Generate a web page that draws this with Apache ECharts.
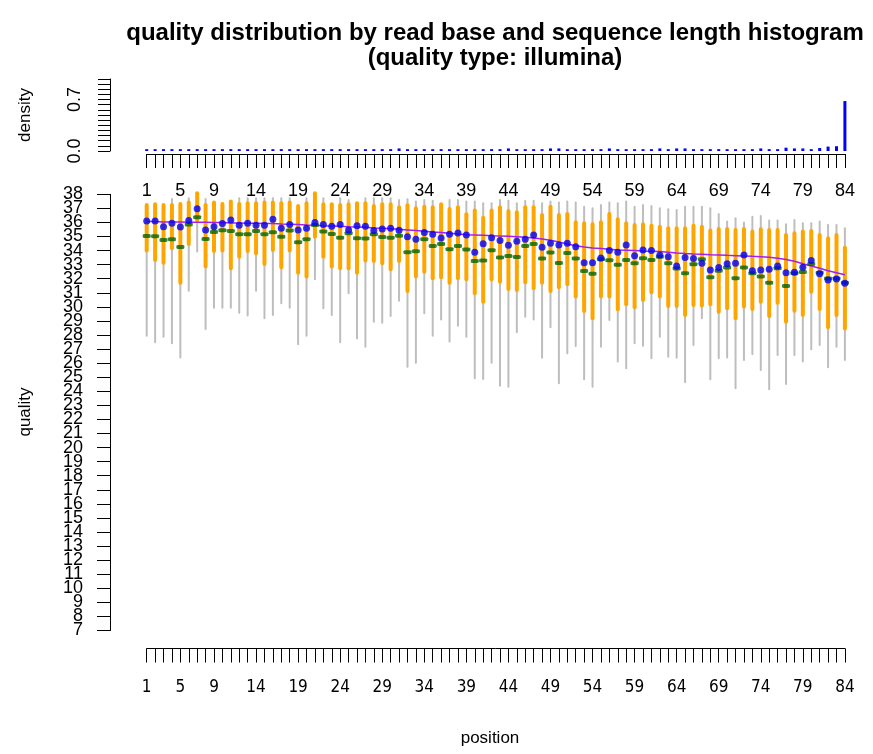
<!DOCTYPE html>
<html>
<head>
<meta charset="utf-8">
<script src="https://cdn.jsdelivr.net/npm/echarts@6/dist/echarts.min.js"></script>
<style>
html, body { margin: 0; padding: 0; background: #fff; }
#chart { width: 873px; height: 754px; }
</style>
</head>
<body>
<div id="chart"></div>
<script>
// read positions 1..84
var positions = [];
for (var i = 1; i <= 84; i++) positions.push(i);
var posLabels = [1, 5, 9, 14, 19, 24, 29, 34, 39, 44, 49, 54, 59, 64, 69, 74, 79, 84];
var densityLabels = [0, 0.7];
// quality labels, split in two sets so none of them gets dropped for overlapping
var qualityLabelsOdd = [7, 9, 11, 13, 15, 17, 19, 21, 23, 25, 27, 29, 31, 33, 35, 37];
var qualityLabelsEven = [8, 10, 12, 14, 16, 18, 20, 22, 24, 26, 28, 30, 32, 34, 36, 38];

// sequence length density (top panel)
var density = [0.025, 0.025, 0.025, 0.025, 0.025, 0.025, 0.025, 0.025, 0.025, 0.025,
	0.025, 0.025, 0.025, 0.025, 0.025, 0.025, 0.025, 0.025, 0.025, 0.025,
	0.025, 0.025, 0.025, 0.025, 0.025, 0.025, 0.025, 0.025, 0.025, 0.025,
	0.035, 0.025, 0.025, 0.025, 0.025, 0.025, 0.025, 0.025, 0.025, 0.025,
	0.025, 0.025, 0.025, 0.035, 0.025, 0.025, 0.025, 0.025, 0.035, 0.035,
	0.025, 0.025, 0.025, 0.025, 0.025, 0.035, 0.025, 0.025, 0.025, 0.025,
	0.025, 0.035, 0.025, 0.035, 0.035, 0.025, 0.025, 0.025, 0.025, 0.025,
	0.025, 0.025, 0.025, 0.035, 0.025, 0.025, 0.045, 0.035, 0.035, 0.025,
	0.04, 0.06, 0.065, 0.68];

// quality per position (bottom panel)
var whiskerHigh = [37.24, 37.29, 37.24, 37.67, 37.31, 37.72, 38.07, 37.67, 37.41, 37.31,
	37.48, 37.72, 37.72, 37.72, 37.72, 37.72, 37.72, 37.72, 37.17, 37.72,
	38.07, 37.72, 37.29, 37.72, 37.60, 37.36, 37.72, 37.72, 37.72, 37.72,
	37.60, 37.65, 37.48, 37.60, 37.55, 37.29, 37.60, 37.60, 37.48, 37.48,
	37.36, 37.36, 37.60, 37.55, 37.36, 37.55, 37.55, 37.36, 37.48, 37.41,
	37.48, 37.41, 37.12, 37.01, 37.24, 37.41, 37.36, 37.48, 37.12, 37.24,
	37.17, 37.01, 36.93, 36.89, 37.12, 37.12, 37.12, 37.01, 36.60, 36.06,
	36.29, 35.99, 36.41, 36.46, 36.13, 36.13, 35.87, 36.18, 35.94, 35.94,
	36.06, 35.82, 35.82, 35.58];
var q75 = [37.24, 37.29, 37.24, 37.24, 37.31, 37.41, 38.07, 37.24, 37.41, 37.31,
	37.48, 37.31, 37.36, 37.36, 37.41, 37.41, 37.36, 37.41, 37.17, 37.36,
	38.07, 37.29, 37.29, 37.24, 37.29, 37.36, 37.36, 37.17, 37.29, 37.29,
	37.08, 37.22, 37.01, 37.12, 37.08, 37.29, 36.96, 37.08, 36.58, 36.84,
	36.34, 36.84, 37.08, 36.82, 36.72, 37.08, 37.08, 36.53, 37.12, 36.53,
	36.60, 36.01, 35.94, 35.87, 36.01, 36.60, 36.22, 35.94, 35.82, 35.87,
	35.77, 35.70, 35.58, 35.58, 35.58, 35.77, 35.70, 35.42, 35.54, 35.54,
	35.47, 35.54, 35.35, 35.51, 35.47, 35.47, 35.11, 35.23, 35.35, 35.39,
	35.11, 34.87, 35.11, 34.21];
var q25 = [34.00, 33.33, 33.14, 34.16, 31.72, 34.47, 36.18, 32.86, 33.97, 34.00,
	32.74, 33.57, 33.97, 33.81, 33.05, 34.04, 32.81, 34.00, 32.43, 32.15,
	34.99, 33.57, 32.86, 32.74, 32.74, 32.43, 33.29, 33.26, 33.10, 32.67,
	33.26, 31.13, 32.15, 32.50, 32.03, 32.10, 31.72, 32.03, 31.96, 30.96,
	30.37, 31.96, 31.79, 31.27, 31.20, 31.75, 31.32, 31.72, 31.13, 31.39,
	31.60, 30.73, 29.71, 29.19, 30.73, 30.73, 29.83, 30.18, 29.97, 30.49,
	31.03, 30.73, 30.06, 30.06, 29.42, 30.13, 30.09, 30.18, 29.66, 29.90,
	29.19, 30.02, 29.85, 30.37, 29.35, 30.30, 28.95, 29.73, 29.42, 31.08,
	29.85, 28.55, 29.42, 28.47];
var whiskerLow = [27.95, 27.48, 27.88, 27.41, 26.41, 31.15, 33.93, 28.43, 29.94, 29.94,
	29.94, 29.59, 29.38, 31.15, 29.19, 29.42, 30.25, 29.94, 27.34, 27.95,
	31.96, 29.90, 29.42, 27.48, 30.96, 27.76, 27.17, 28.95, 28.88, 29.35,
	30.44, 25.75, 26.03, 29.54, 27.95, 29.11, 27.53, 28.66, 27.88, 24.92,
	24.87, 26.03, 24.40, 24.33, 28.19, 29.30, 29.11, 26.39, 28.55, 24.57,
	26.70, 27.22, 24.85, 24.33, 27.17, 29.07, 26.11, 25.63, 27.41, 27.24,
	26.34, 27.88, 26.46, 26.39, 24.64, 27.29, 29.19, 24.85, 26.34, 26.41,
	24.21, 26.22, 26.65, 25.51, 24.14, 26.58, 24.52, 26.58, 26.11, 26.98,
	27.29, 25.70, 27.17, 26.22];
var means = [36.11, 36.11, 35.70, 35.94, 35.67, 36.13, 36.98, 35.47, 35.70, 35.92,
	36.18, 35.80, 35.94, 35.80, 35.80, 36.22, 35.58, 35.85, 35.47, 35.58,
	35.99, 35.85, 35.73, 35.85, 35.47, 35.77, 35.73, 35.42, 35.54, 35.58,
	35.44, 34.99, 34.80, 35.28, 35.16, 34.90, 35.16, 35.25, 35.11, 33.88,
	34.49, 34.92, 34.71, 34.38, 34.66, 34.80, 35.11, 34.23, 34.52, 34.40,
	34.52, 34.28, 33.14, 33.14, 33.47, 34.00, 33.88, 34.40, 33.64, 34.04,
	34.00, 33.69, 33.57, 32.91, 33.50, 33.43, 33.10, 32.62, 32.79, 33.07,
	33.10, 33.69, 32.57, 32.62, 32.67, 32.91, 32.43, 32.46, 32.81, 33.29,
	32.36, 31.91, 31.98, 31.67];
var medians = [35.04, 35.02, 34.75, 34.80, 34.26, 35.85, 36.37, 34.83, 35.32, 35.44,
	35.39, 35.16, 35.16, 35.39, 35.16, 35.30, 34.99, 35.42, 34.59, 34.80,
	35.82, 35.35, 35.18, 34.92, 35.23, 34.87, 34.85, 35.16, 34.97, 34.92,
	35.06, 33.88, 33.95, 34.80, 34.33, 34.47, 34.09, 34.33, 34.07, 33.26,
	33.29, 34.02, 33.50, 33.62, 33.55, 34.33, 34.47, 33.43, 33.86, 33.12,
	33.83, 33.43, 32.55, 32.36, 33.38, 33.31, 33.00, 33.33, 33.10, 33.45,
	33.33, 33.57, 33.10, 32.72, 32.39, 33.02, 33.38, 32.10, 32.57, 32.79,
	32.03, 32.79, 32.39, 32.15, 31.72, 32.74, 31.48, 32.39, 32.48, 33.05,
	32.43, 32.01, 32.01, 31.72];
var smooth = [36.06, 36.06, 36.04, 36.04, 36.04, 36.01, 36.01, 36.01, 35.99, 35.99,
	35.96, 35.96, 35.94, 35.94, 35.92, 35.92, 35.89, 35.87, 35.85, 35.82,
	35.80, 35.77, 35.75, 35.73, 35.70, 35.68, 35.66, 35.61, 35.58, 35.56,
	35.51, 35.47, 35.42, 35.37, 35.32, 35.28, 35.23, 35.18, 35.13, 35.11,
	35.09, 35.06, 35.04, 35.02, 34.99, 34.94, 34.90, 34.83, 34.73, 34.61,
	34.47, 34.35, 34.26, 34.19, 34.14, 34.09, 34.04, 34.02, 34.00, 33.97,
	33.95, 33.93, 33.88, 33.83, 33.79, 33.76, 33.74, 33.71, 33.69, 33.66,
	33.64, 33.62, 33.59, 33.57, 33.52, 33.45, 33.36, 33.24, 33.07, 32.91,
	32.74, 32.57, 32.43, 32.29];

var FONT = 'Liberation Sans, Arial, Helvetica, sans-serif';

function pairs(arr) {
	return positions.map(function(p, i) { return [p, arr[i]]; });
}

// vertical segment per position, drawn through the axes
function segmentSeries(lowArr, highArr, color, width, z) {
	return {
		type : 'custom',
		xAxisIndex : 1,
		yAxisIndex : 1,
		z : z,
		data : positions.map(function(p, i) { return [p, lowArr[i], highArr[i]]; }),
		encode : { x : 0, y : [1, 2] },
		renderItem : function(params, api) {
			var a = api.coord([api.value(0), api.value(1)]);
			var b = api.coord([api.value(0), api.value(2)]);
			return {
				type : 'line',
				shape : { x1 : a[0], y1 : a[1], x2 : b[0], y2 : b[1] },
				style : { stroke : color, lineWidth : width, lineCap : 'round' }
			};
		}
	};
}

function xAxisFor(gridIndex, offset, margin, font, size) {
	return {
		type : 'value',
		gridIndex : gridIndex,
		min : 1,
		max : 84,
		interval : 1,
		position : 'bottom',
		offset : offset,
		splitLine : { show : false },
		axisLine : { show : true, onZero : false, lineStyle : { color : '#000', width : 1 } },
		axisTick : { show : true, length : 14, lineStyle : { color : '#000' } },
		axisLabel : {
			customValues : posLabels,
			margin : margin,
			color : '#000',
			fontSize : size,
			fontFamily : font
		}
	};
}

function qualityAxis(labels, withLine) {
	return {
		type : 'value',
		gridIndex : 1,
		position : 'left',
		min : 7,
		max : 38,
		interval : 1,
		offset : 36.7,
		splitLine : { show : false },
		axisLine : { show : withLine, lineStyle : { color : '#000' } },
		axisTick : { show : withLine, length : 13, lineStyle : { color : '#000' } },
		axisLabel : {
			customValues : labels,
			margin : 27,
			color : '#000',
			fontSize : 18,
			fontFamily : FONT
		}
	};
}

var chart = echarts.init(document.getElementById('chart'));
var option = {
	animation : false,
	backgroundColor : '#fff',
	title : {
		text : 'quality distribution by read base and sequence length histogram\n(quality type: illumina)',
		left : 490,
		textAlign : 'center',
		top : 16,
		textStyle : {
			fontFamily : FONT,
			fontSize : 24,
			fontWeight : 'bold',
			color : '#000',
			lineHeight : 25
		}
	},
	grid : [ {
		left : 146.7,
		right : 28.1,
		top : 79,
		height : 72
	}, {
		left : 146.7,
		right : 28.1,
		top : 194.3,
		height : 436.2
	} ],
	xAxis : [ xAxisFor(0, 3, 28, FONT, 18),
		xAxisFor(1, 18, 31, 'DejaVu Sans Condensed, Liberation Sans Narrow, ' + FONT, 17) ],
	yAxis : [ {
		type : 'value',
		gridIndex : 0,
		min : 0,
		max : 0.98,
		interval : 0.07,
		offset : 36.7,
		splitLine : { show : false },
		axisLine : { show : true, lineStyle : { color : '#000' } },
		axisTick : { show : true, length : 12, lineStyle : { color : '#000' } },
		axisLabel : {
			customValues : densityLabels,
			formatter : function(v) { return v.toFixed(1); },
			rotate : 90,
			margin : 26,
			color : '#000',
			fontSize : 18,
			fontFamily : FONT
		}
	}, qualityAxis(qualityLabelsOdd, true), qualityAxis(qualityLabelsEven, false) ],
	graphic : [ {
		type : 'text',
		x : 25,
		y : 115,
		rotation : Math.PI / 2,
		style : { text : 'density', font : '17px ' + FONT, fill : '#000', textAlign : 'center', textVerticalAlign : 'middle' }
	}, {
		type : 'text',
		x : 25,
		y : 412,
		rotation : Math.PI / 2,
		style : { text : 'quality', font : '17px ' + FONT, fill : '#000', textAlign : 'center', textVerticalAlign : 'middle' }
	}, {
		type : 'text',
		x : 490,
		y : 738,
		style : { text : 'position', font : '17px ' + FONT, fill : '#000', textAlign : 'center', textVerticalAlign : 'middle' }
	} ],
	series : [ {
		name : 'density',
		type : 'bar',
		xAxisIndex : 0,
		yAxisIndex : 0,
		barWidth : 3,
		itemStyle : { color : '#0000FF' },
		data : pairs(density)
	},
	segmentSeries(whiskerLow, whiskerHigh, '#BEBEBE', 2, 2),
	segmentSeries(q25, q75, '#FFA500', 4, 3),
	{
		name : 'smooth',
		type : 'line',
		xAxisIndex : 1,
		yAxisIndex : 1,
		z : 4,
		showSymbol : false,
		symbol : 'none',
		lineStyle : { color : '#A020F0', width : 1.5 },
		data : pairs(smooth)
	}, {
		name : 'median',
		type : 'scatter',
		xAxisIndex : 1,
		yAxisIndex : 1,
		z : 5,
		clip : false,
		symbol : 'roundRect',
		symbolSize : [8, 4],
		itemStyle : { color : '#006400' },
		data : pairs(medians)
	}, {
		name : 'mean',
		type : 'scatter',
		xAxisIndex : 1,
		yAxisIndex : 1,
		z : 6,
		clip : false,
		symbol : 'circle',
		symbolSize : 7,
		itemStyle : { color : '#0000FF' },
		data : pairs(means)
	} ]
};
chart.setOption(option);
</script>
</body>
</html>
